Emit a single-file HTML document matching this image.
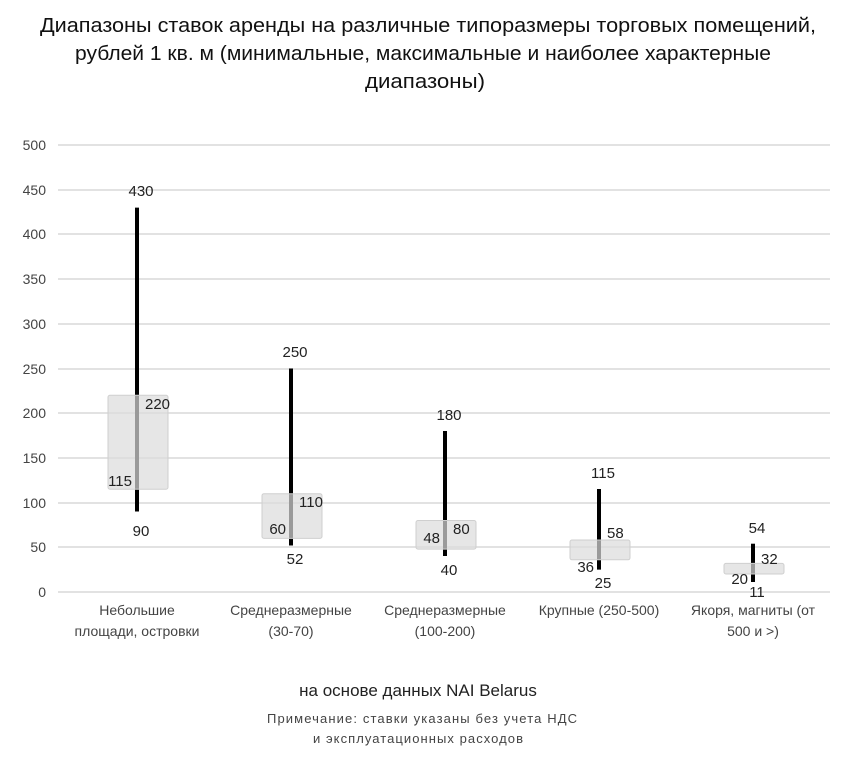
<!DOCTYPE html>
<html><head><meta charset="utf-8"><style>
body{margin:0;background:#fff;width:860px;height:757px;overflow:hidden}
svg{display:block}
</style></head><body>
<svg width="860" height="757" xmlns="http://www.w3.org/2000/svg" font-family="Liberation Sans, sans-serif">
<g font-family="Liberation Sans Narrow, Liberation Sans, sans-serif" font-size="20" fill="#111" text-anchor="middle">
<text x="428" y="32" textLength="776" lengthAdjust="spacingAndGlyphs">Диапазоны ставок аренды на различные типоразмеры торговых помещений,</text>
<text x="423" y="60" textLength="696" lengthAdjust="spacingAndGlyphs">рублей 1 кв. м (минимальные, максимальные и наиболее характерные</text>
<text x="425" y="88" textLength="120" lengthAdjust="spacingAndGlyphs">диапазоны)</text>
</g>
<g stroke="#d9d9d9" stroke-width="1.5">
<line x1="58" x2="830" y1="145" y2="145"/><line x1="58" x2="830" y1="190" y2="190"/>
<line x1="58" x2="830" y1="234" y2="234"/><line x1="58" x2="830" y1="279" y2="279"/>
<line x1="58" x2="830" y1="324" y2="324"/><line x1="58" x2="830" y1="369" y2="369"/>
<line x1="58" x2="830" y1="413" y2="413"/><line x1="58" x2="830" y1="458" y2="458"/>
<line x1="58" x2="830" y1="503" y2="503"/><line x1="58" x2="830" y1="547" y2="547"/>
<line x1="58" x2="830" y1="592" y2="592"/>
</g>
<g font-size="14" fill="#444" text-anchor="end">
<text x="46" y="150">500</text><text x="46" y="195">450</text><text x="46" y="239">400</text>
<text x="46" y="284">350</text><text x="46" y="329">300</text><text x="46" y="374">250</text>
<text x="46" y="418">200</text><text x="46" y="463">150</text><text x="46" y="508">100</text>
<text x="46" y="552">50</text><text x="46" y="597">0</text>
</g>
<g stroke="#000" stroke-width="4">
<line x1="137" x2="137" y1="207.6" y2="511.5"/>
<line x1="291" x2="291" y1="368.5" y2="545.5"/>
<line x1="445" x2="445" y1="431" y2="556"/>
<line x1="599" x2="599" y1="489" y2="569.6"/>
<line x1="753" x2="753" y1="543.7" y2="582"/>
</g>
<g fill="#dcdcdc" fill-opacity="0.7" stroke="#cfcfcf" stroke-width="1">
<rect x="108" y="395.3" width="60" height="93.9" rx="2"/>
<rect x="262" y="493.7" width="60" height="44.7" rx="2"/>
<rect x="416" y="520.5" width="60" height="28.6" rx="2"/>
<rect x="570" y="540" width="60" height="19.8" rx="2"/>
<rect x="724" y="563.4" width="60" height="10.6" rx="2"/>
</g>
<g font-size="15" fill="#222">
<g text-anchor="middle">
<text x="141" y="196">430</text><text x="141" y="536">90</text>
<text x="295" y="357">250</text><text x="295" y="564">52</text>
<text x="449" y="420">180</text><text x="449" y="575">40</text>
<text x="603" y="478">115</text><text x="603" y="588">25</text>
<text x="757" y="533">54</text><text x="757" y="597">11</text>
</g>
<text x="145" y="409">220</text><text x="299" y="507">110</text><text x="453" y="534">80</text>
<text x="607" y="538">58</text><text x="761" y="564">32</text>
<g text-anchor="end">
<text x="132" y="486">115</text><text x="286" y="534">60</text><text x="440" y="543">48</text>
<text x="594" y="572">36</text><text x="748" y="584">20</text>
</g>
</g>
<g font-size="14" fill="#444" text-anchor="middle">
<text x="137" y="615">Небольшие</text><text x="137" y="636">площади, островки</text>
<text x="291" y="615">Среднеразмерные</text><text x="291" y="636">(30-70)</text>
<text x="445" y="615">Среднеразмерные</text><text x="445" y="636">(100-200)</text>
<text x="599" y="615">Крупные (250-500)</text>
<text x="753" y="615">Якоря, магниты (от</text><text x="753" y="636">500 и &gt;)</text>
</g>
<g text-anchor="middle" fill="#222">
<text x="418" y="696" font-size="17">на основе данных NAI Belarus</text>
<text x="422" y="723" font-size="13" fill="#444" textLength="310" lengthAdjust="spacing">Примечание: ставки указаны без учета НДС</text>
<text x="418" y="743" font-size="13" fill="#444" textLength="210" lengthAdjust="spacing">и эксплуатационных расходов</text>
</g>
</svg>
</body></html>
